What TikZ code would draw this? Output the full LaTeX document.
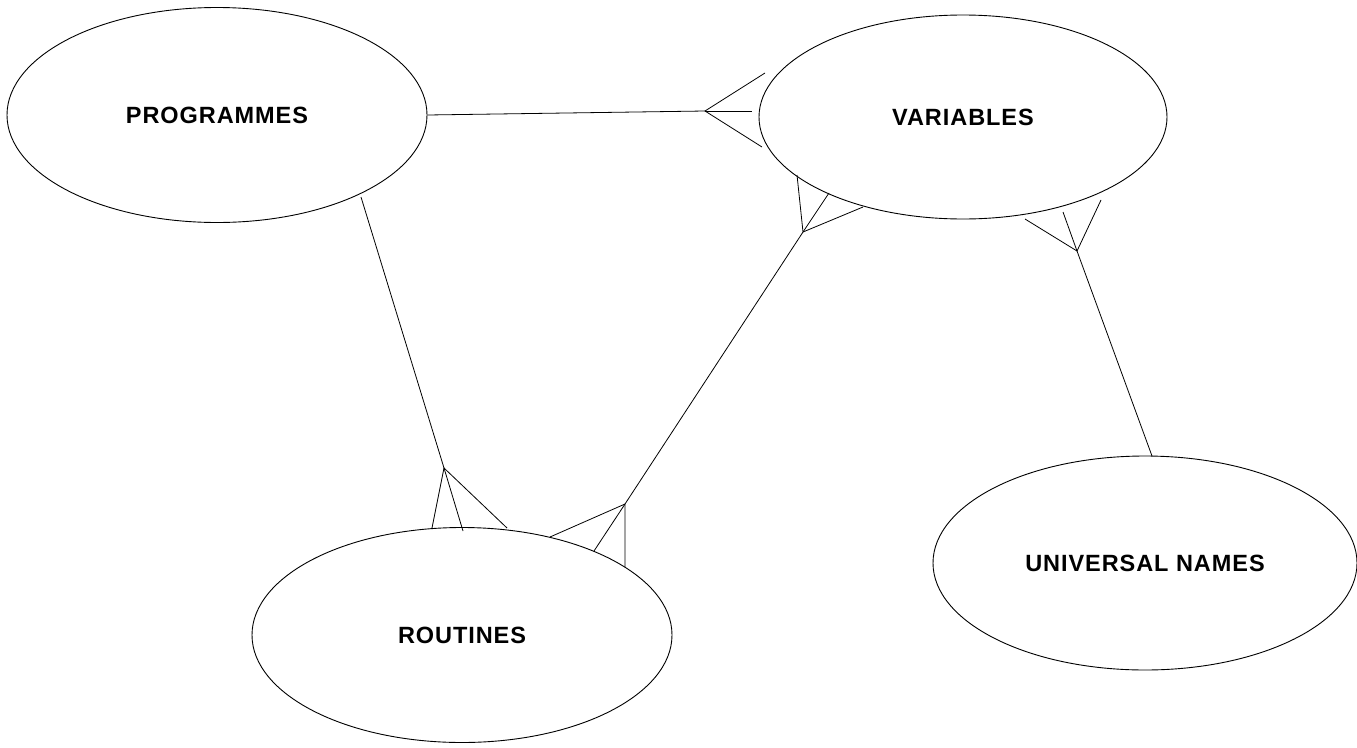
\documentclass[tikz,border=0pt]{standalone}
\usepackage{fontspec}
\usetikzlibrary{shapes.geometric}
\newfontfamily\lblfont{Liberation Sans}[LetterSpace=4]
\tikzset{
  entity/.style={draw=black, line width=0.9pt, ellipse, inner sep=0pt,
    font=\lblfont\bfseries\fontsize{23.5}{27}\selectfont},
  link/.style={draw=black, line width=0.8pt},
}
\begin{document}
\begin{tikzpicture}[x=1pt, y=-1pt]
  \useasboundingbox (0,0) rectangle (1357,747);

  % entities
  \node[entity, minimum width=420pt, minimum height=215pt] (P) at (217,115) {PROGRAMMES};
  \node[entity, minimum width=408pt, minimum height=204pt] (V) at (963,117) {VARIABLES};
  \node[entity, minimum width=420pt, minimum height=215pt] (R) at (462,635) {ROUTINES};
  \node[entity, minimum width=424pt, minimum height=214pt] (U) at (1145,563) {UNIVERSAL NAMES};

  % fork points and toe ends of the crow's feet
  \coordinate (pv) at (705,111);
  \coordinate (pv1) at (765,73);
  \coordinate (pv2) at (752,111);
  \coordinate (pv3) at (762,147);

  \coordinate (ps) at (361,197);
  \coordinate (pr) at (444,468);
  \coordinate (pr1) at (432,528);
  \coordinate (pr2) at (463,531);
  \coordinate (pr3) at (507,528);

  \coordinate (vr) at (803,232);
  \coordinate (vr1) at (797,175);
  \coordinate (vr2) at (829,193);
  \coordinate (vr3) at (863,207);

  \coordinate (rv) at (625,504);
  \coordinate (rv1) at (550,537);
  \coordinate (rv2) at (594,551);
  \coordinate (rv3) at (625,567);

  \coordinate (vu) at (1077,251);
  \coordinate (vu1) at (1025,219);
  \coordinate (vu2) at (1063,212);
  \coordinate (vu3) at (1101,200);
  \coordinate (ue) at (1152,456);

  % PROGRAMMES -- VARIABLES
  \draw[link] (P.east) -- (pv);
  \draw[link] (pv1) -- (pv) -- (pv3);
  \draw[link] (pv) -- (pv2);

  % PROGRAMMES -- ROUTINES
  \draw[link] (ps) -- (pr);
  \draw[link] (pr1) -- (pr) -- (pr3);
  \draw[link] (pr) -- (pr2);

  % VARIABLES -- ROUTINES (many to many)
  \draw[link] (vr) -- (rv);
  \draw[link] (vr1) -- (vr) -- (vr3);
  \draw[link] (vr) -- (vr2);
  \draw[link] (rv1) -- (rv) -- (rv3);
  \draw[link] (rv) -- (rv2);

  % VARIABLES -- UNIVERSAL NAMES
  \draw[link] (vu) -- (ue);
  \draw[link] (vu1) -- (vu) -- (vu3);
  \draw[link] (vu) -- (vu2);
\end{tikzpicture}
\end{document}
